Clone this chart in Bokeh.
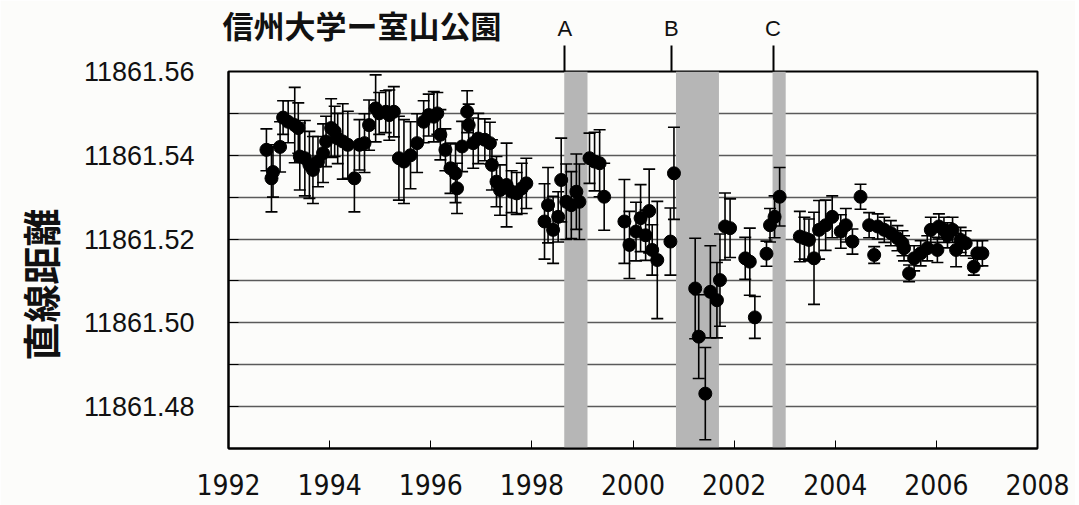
import math
from bokeh.plotting import figure
from bokeh.models import (ColumnDataSource, Whisker, TeeHead, FixedTicker, NumeralTickFormatter,
                          Range1d, BoxAnnotation, Title, LinearAxis, CustomJSTickFormatter)
from bokeh.embed import file_html
from bokeh.resources import INLINE

title_text = "信州大学ー室山公園"
y_title = "直線距離"

x_ticks = [1992, 1994, 1996, 1998, 2000, 2002, 2004, 2006, 2008]
y_ticks = [11861.48, 11861.50, 11861.52, 11861.54, 11861.56]
y_grid_minor = [11861.47, 11861.49, 11861.51, 11861.53, 11861.55]

event_labels = ["A", "B", "C"]
event_x = [1998.65, 2000.76, 2002.77]
band_start = [1998.64, 2000.85, 2002.76]
band_end = [1999.10, 2001.70, 2003.02]

years = [
    1992.75, 1992.85, 1992.88, 1993.02, 1993.08, 1993.18, 1993.31, 1993.38, 1993.41, 1993.51,
    1993.60, 1993.67, 1993.77, 1993.87, 1993.93, 1994.03, 1994.10, 1994.16, 1994.26, 1994.36,
    1994.49, 1994.59, 1994.69, 1994.78, 1994.91, 1994.98, 1995.11, 1995.18, 1995.27, 1995.37,
    1995.47, 1995.60, 1995.73, 1995.86, 1995.96, 1996.06, 1996.13, 1996.19, 1996.29, 1996.39,
    1996.49, 1996.52, 1996.62, 1996.72, 1996.75, 1996.84, 1996.94, 1997.07, 1997.17, 1997.21,
    1997.30, 1997.37, 1997.50, 1997.60, 1997.70, 1997.80, 1997.89, 1998.25, 1998.32, 1998.42,
    1998.52, 1998.58, 1998.68, 1998.78, 1998.88, 1998.94, 1999.14, 1999.24, 1999.34, 1999.43,
    1999.83, 1999.93, 2000.06, 2000.15, 2000.25, 2000.32, 2000.38, 2000.48, 2000.74, 2000.81,
    2001.23, 2001.30, 2001.43, 2001.53, 2001.66, 2001.72, 2001.82, 2001.92, 2002.22, 2002.31,
    2002.41, 2002.64, 2002.71, 2002.80, 2002.90, 2003.30, 2003.39, 2003.48, 2003.58, 2003.68,
    2003.81, 2003.94, 2004.11, 2004.21, 2004.34, 2004.50, 2004.67, 2004.77, 2004.84, 2004.97,
    2005.10, 2005.23, 2005.33, 2005.36, 2005.46, 2005.56, 2005.69, 2005.82, 2005.89, 2006.02,
    2006.05, 2006.15, 2006.22, 2006.32, 2006.39, 2006.48, 2006.58, 2006.74, 2006.81, 2006.91,
]
distance = [
    11861.5413, 11861.5345, 11861.5360, 11861.5420, 11861.5490, 11861.5480, 11861.5472, 11861.5465, 11861.5397, 11861.5393,
    11861.5377, 11861.5365, 11861.5385, 11861.5405, 11861.5433, 11861.5465, 11861.5457, 11861.5440, 11861.5433, 11861.5425,
    11861.5345, 11861.5425, 11861.5429, 11861.5472, 11861.5512, 11861.5500, 11861.5504, 11861.5496, 11861.5504, 11861.5393,
    11861.5385, 11861.5400, 11861.5429, 11861.5480, 11861.5496, 11861.5492, 11861.5500, 11861.5449, 11861.5413, 11861.5369,
    11861.5357, 11861.5321, 11861.5421, 11861.5504, 11861.5472, 11861.5429, 11861.5440, 11861.5437, 11861.5429, 11861.5377,
    11861.5337, 11861.5317, 11861.5329, 11861.5313, 11861.5309, 11861.5321, 11861.5333, 11861.5242, 11861.5281, 11861.5222,
    11861.5253, 11861.5341, 11861.5289, 11861.5281, 11861.5313, 11861.5289, 11861.5393, 11861.5385, 11861.5381, 11861.5301,
    11861.5242, 11861.5186, 11861.5218, 11861.5250, 11861.5209, 11861.5267, 11861.5174, 11861.5150, 11861.5194, 11861.5357,
    11861.5082, 11861.4967, 11861.4831, 11861.5074, 11861.5054, 11861.5102, 11861.5230, 11861.5226, 11861.5154, 11861.5146,
    11861.5013, 11861.5165, 11861.5233, 11861.5253, 11861.5301, 11861.5206, 11861.5202, 11861.5198, 11861.5154, 11861.5222,
    11861.5233, 11861.5253, 11861.5218, 11861.5233, 11861.5194, 11861.5301, 11861.5233, 11861.5162, 11861.5230, 11861.5222,
    11861.5214, 11861.5202, 11861.5190, 11861.5178, 11861.5118, 11861.5154, 11861.5166, 11861.5178, 11861.5222, 11861.5174,
    11861.5230, 11861.5222, 11861.5209, 11861.5222, 11861.5174, 11861.5198, 11861.5190, 11861.5134, 11861.5166, 11861.5166,
]
error = [
    0.005, 0.008, 0.006, 0.006, 0.004, 0.005, 0.009, 0.006, 0.008, 0.009,
    0.008, 0.008, 0.006, 0.007, 0.006, 0.007, 0.006, 0.006, 0.009, 0.008,
    0.008, 0.006, 0.007, 0.006, 0.008, 0.005, 0.005, 0.006, 0.006, 0.010,
    0.010, 0.008, 0.007, 0.005, 0.005, 0.006, 0.005, 0.006, 0.005, 0.006,
    0.007, 0.006, 0.006, 0.005, 0.005, 0.006, 0.006, 0.005, 0.005, 0.006,
    0.006, 0.006, 0.010, 0.005, 0.005, 0.006, 0.006, 0.009, 0.009, 0.008,
    0.006, 0.010, 0.009, 0.008, 0.009, 0.009, 0.006, 0.007, 0.008, 0.008,
    0.010, 0.008, 0.007, 0.008, 0.006, 0.010, 0.006, 0.014, 0.008, 0.011,
    0.012, 0.010, 0.011, 0.011, 0.009, 0.011, 0.008, 0.007, 0.005, 0.008,
    0.005, 0.003, 0.004, 0.005, 0.007, 0.006, 0.005, 0.005, 0.011, 0.007,
    0.006, 0.005, 0.004, 0.004, 0.003, 0.003, 0.003, 0.002, 0.003, 0.003,
    0.003, 0.003, 0.003, 0.003, 0.002, 0.003, 0.003, 0.003, 0.003, 0.003,
    0.003, 0.003, 0.003, 0.003, 0.004, 0.003, 0.003, 0.002, 0.003, 0.003,
]

upper = [v + e for v, e in zip(distance, error)]
lower = [v - e for v, e in zip(distance, error)]
src = ColumnDataSource(dict(year=years, value=distance, upper=upper, lower=lower))

BG = "#fcfcfa"
p = figure(width=1075, height=505, output_backend="svg", toolbar_location=None,
           x_range=Range1d(1992, 2008), y_range=Range1d(11861.47, 11861.56),
           min_border_left=228, min_border_right=38, min_border_top=71, min_border_bottom=57,
           background_fill_color=BG, border_fill_color=BG)
p.outline_line_color = "black"
p.outline_line_width = 2

# bottom year axis
xa = p.below[0]
xa.ticker = FixedTicker(ticks=x_ticks)
xa.formatter = NumeralTickFormatter(format="0")
xa.major_tick_in = 8
xa.major_tick_out = 0
xa.minor_tick_line_color = None
xa.major_tick_line_color = "black"
xa.axis_line_color = "black"
xa.axis_line_width = 2
xa.major_label_text_font = "'Liberation Sans Narrow', 'DejaVu Sans Condensed', sans-serif"
xa.major_label_text_font_size = "28px"
xa.major_label_text_color = "#111111"
xa.major_label_standoff = 25

# event letters on an axis above the frame (tick marks serve as the pointer lines)
ev_axis = LinearAxis(ticker=FixedTicker(ticks=event_x),
                     formatter=CustomJSTickFormatter(args=dict(names=event_labels),
                                                     code="return names[index]"))
ev_axis.axis_line_color = None
ev_axis.major_tick_in = 0
ev_axis.major_tick_out = 26
ev_axis.major_tick_line_width = 2
ev_axis.major_tick_line_color = "black"
ev_axis.minor_tick_line_color = None
ev_axis.major_label_standoff = 5
ev_axis.major_label_text_font = "Liberation Sans"
ev_axis.major_label_text_font_size = "22px"
ev_axis.major_label_text_color = "#111111"
p.add_layout(ev_axis, "above")

# main title (pulled down next to the event letters)
p.title.text = title_text
p.title.align = "left"
p.title.offset = -6
p.title.standoff = -69
p.title.text_font = "Noto Sans CJK JP"
p.title.text_font_style = "bold"
p.title.text_font_size = "31px"
p.title.text_color = "#111111"

# y-axis title
p.add_layout(Title(text=y_title, align="left", offset=88, standoff=23, vertical_align="top",
                   text_font="Noto Sans CJK JP", text_font_style="bold",
                   text_font_size="38px", text_color="#111111"), "left")

# shaded periods
for s, e in zip(band_start, band_end):
    p.add_layout(BoxAnnotation(left=s, right=e, fill_color="#b6b6b6", fill_alpha=1.0,
                               line_color=None, level="underlay"))

ya = p.left[0]
ya.ticker = FixedTicker(ticks=y_ticks, minor_ticks=y_grid_minor)
ya.formatter = NumeralTickFormatter(format="0.00")
ya.major_tick_in = 10
ya.major_tick_out = 0
ya.minor_tick_in = 10
ya.minor_tick_out = 0
ya.major_tick_line_color = "black"
ya.minor_tick_line_color = "black"
ya.axis_line_color = "black"
ya.axis_line_width = 2
ya.major_label_text_font = "Liberation Sans"
ya.major_label_text_font_size = "27px"
ya.major_label_text_color = "#111111"
ya.major_label_standoff = 34

p.xgrid.grid_line_color = None
p.ygrid.grid_line_color = "#5a5a5a"
p.ygrid.grid_line_width = 1.5
p.ygrid.minor_grid_line_color = "#5a5a5a"
p.ygrid.minor_grid_line_width = 1.5

# error bars and points
p.add_layout(Whisker(source=src, base="year", upper="upper", lower="lower",
                     line_color="black", line_width=1.6,
                     upper_head=TeeHead(size=12, line_color="black", line_width=1.6),
                     lower_head=TeeHead(size=12, line_color="black", line_width=1.6)))
p.scatter(x="year", y="value", source=src, size=13, color="black")

open("out.html", "w").write(file_html(p, INLINE))
